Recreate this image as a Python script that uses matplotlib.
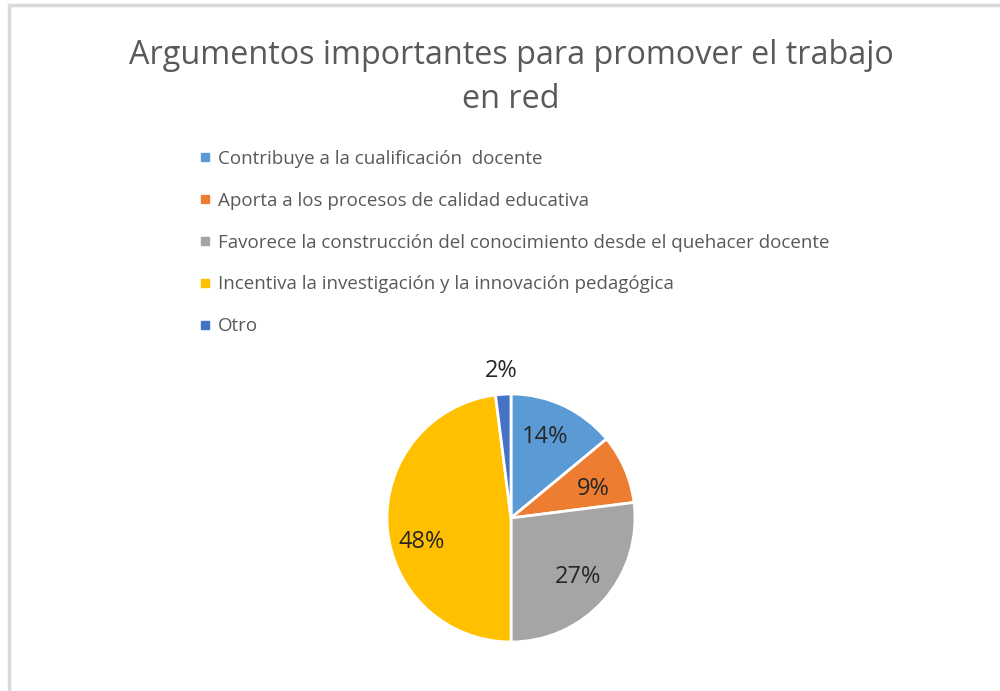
import matplotlib.pyplot as plt
from matplotlib.lines import Line2D
from matplotlib.patches import Rectangle

# Data
categories = [
    "Contribuye a la cualificación  docente",
    "Aporta a los procesos de calidad educativa",
    "Favorece la construcción del conocimiento desde el quehacer docente",
    "Incentiva la investigación y la innovación pedagógica",
    "Otro",
]
values = [14, 9, 27, 48, 2]
colors = ["#5B9BD5", "#ED7D31", "#A5A5A5", "#FFC000", "#4472C4"]
title = "Argumentos importantes para promover el trabajo\nen red"

plt.rcParams["font.family"] = ["Open Sans", "DejaVu Sans"]

fig = plt.figure(figsize=(10, 6.91), dpi=100)

# chart area border (only left and top visible)
fig.patches.append(Rectangle((0.009, -0.1), 1.1, 1.093, transform=fig.transFigure,
                             fill=False, edgecolor="#D9D9D9", linewidth=2.5))

fig.text(0.511, 0.943, title, ha="center", va="top", fontsize=23.3,
         color="#595959", linespacing=1.42)

# pie centred at (511, 518) px, radius 124 px
cx, cy, r = 511, 691 - 518, 124
ax = fig.add_axes([(cx - r) / 1000, (cy - r) / 691, 2 * r / 1000, 2 * r / 691])
wedges, texts, autotexts = ax.pie(
    values, colors=colors, startangle=90, counterclock=False,
    autopct="%d%%", pctdistance=0.72,
    wedgeprops=dict(edgecolor="white", linewidth=2),
    textprops=dict(fontsize=17, color="#262626"))
ax.set_xlim(-1, 1)
ax.set_ylim(-1, 1)

# nudge labels to Excel's "best fit" spots
x, y = autotexts[-1].get_position()
autotexts[-1].set_position((x / 0.72 * 1.19, y / 0.72 * 1.19))
x, y = autotexts[3].get_position()
autotexts[3].set_position((x, y - 0.15))
x, y = autotexts[1].get_position()
autotexts[1].set_position((x, y - 0.055))
x, y = autotexts[0].get_position()
autotexts[0].set_position((x - 0.03, y))

handles = [Line2D([], [], marker="s", linestyle="none", markersize=6,
                  markerfacecolor=c, markeredgecolor=c) for c in colors]
fig.legend(handles, categories, loc="upper left", bbox_to_anchor=(0.199, 0.783),
           frameon=False, fontsize=13.5, labelcolor="#595959",
           handlelength=0.6, handletextpad=0.4, labelspacing=1.27,
           borderaxespad=0, borderpad=0)

fig.savefig("out.png", dpi=100, facecolor="white")
